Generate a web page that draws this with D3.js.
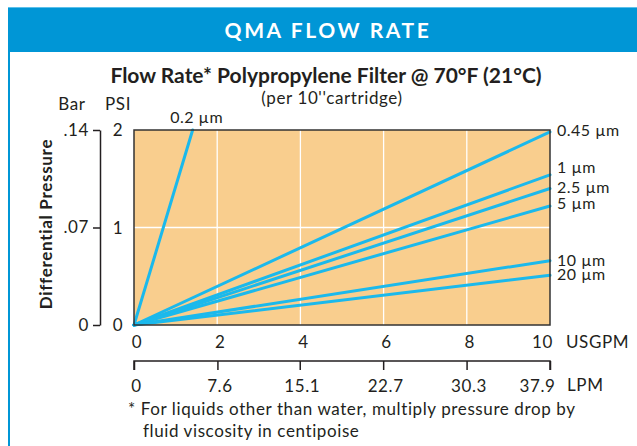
<!DOCTYPE html>
<html>
<head>
<meta charset="utf-8">
<script src="https://cdn.jsdelivr.net/npm/d3@7"></script>
<style>
  html, body { margin: 0; padding: 0; background: #fff; }
  svg { display: block; font-family: Lato, "Noto Sans", sans-serif; }
  .t { fill: #231f20; font-size: 17px; letter-spacing: 0.6px; }
  .lbl { fill: #231f20; font-size: 16px; letter-spacing: 0.5px; }
</style>
</head>
<body>
<div id="chart"></div>
<script>
// series: pressure drop lines, each from origin to an end point (USGPM, PSI)
const seriesNames = ["0.2 µm", "0.45 µm", "1 µm", "2.5 µm", "5 µm", "10 µm", "20 µm"];
const seriesEndGpm = [1.41, 10, 10, 10, 10, 10, 10];
const seriesEndPsi = [2, 1.98, 1.54, 1.40, 1.22, 0.66, 0.51];

const gpmTicks = [0, 2, 4, 6, 8, 10];
const lpmTicks = [0, 7.6, 15.1, 22.7, 30.3, 37.9];
const psiTicks = [0, 1, 2];
const barTicks = [0, 0.07, 0.14];

const W = 637, H = 446;
const plot = { left: 134, right: 550, top: 130, bottom: 325 };

const svg = d3.select("#chart").append("svg").attr("width", W).attr("height", H);

// header band + frame
svg.append("rect").attr("x", 8).attr("y", 8).attr("width", W - 8).attr("height", 44).attr("fill", "#0096d6");
svg.append("line").attr("x1", 8).attr("x2", W).attr("y1", 7.5).attr("y2", 7.5).attr("stroke", "#5cc0ea").attr("stroke-width", 1);
svg.append("line").attr("x1", 9).attr("x2", 9).attr("y1", 8).attr("y2", H).attr("stroke", "#0096d6").attr("stroke-width", 2);
svg.append("text").attr("x", 328).attr("y", 38).attr("text-anchor", "middle")
  .attr("fill", "#fff").attr("font-size", 21).attr("font-weight", "bold").attr("letter-spacing", 2.6)
  .text("QMA FLOW RATE");

// titles
svg.append("text").attr("x", 326).attr("y", 83).attr("text-anchor", "middle")
  .attr("fill", "#231f20").attr("font-size", 21).attr("font-weight", "bold")
  .text("Flow Rate* Polypropylene Filter @ 70°F (21°C)");
svg.append("text").attr("class", "t").attr("x", 332).attr("y", 104).attr("text-anchor", "middle")
  .text("(per 10''cartridge)");

const x = d3.scaleLinear().domain([0, 10]).range([plot.left, plot.right]);
const xl = d3.scaleLinear().domain([0, 37.9]).range([plot.left, plot.right]);
const y = d3.scaleLinear().domain([0, 2]).range([plot.bottom, plot.top]);
const yb = d3.scaleLinear().domain([0, 0.14]).range([plot.bottom, plot.top]);

// plot background
svg.append("rect").attr("x", plot.left).attr("y", plot.top)
  .attr("width", plot.right - plot.left).attr("height", plot.bottom - plot.top)
  .attr("fill", "#f9ce8e");

// grid
svg.append("g").selectAll("line").data(gpmTicks.slice(1, -1)).join("line")
  .attr("x1", d => x(d)).attr("x2", d => x(d)).attr("y1", plot.top).attr("y2", plot.bottom)
  .attr("stroke", "#fff").attr("stroke-width", 1.3);
svg.append("g").selectAll("line").data(psiTicks.slice(1, -1)).join("line")
  .attr("x1", plot.left).attr("x2", plot.right).attr("y1", d => y(d)).attr("y2", d => y(d))
  .attr("stroke", "#fff").attr("stroke-width", 1.3);

// series lines
const lineGen = d3.line().x(d => x(d[0])).y(d => y(d[1]));
const seriesData = seriesNames.map((n, i) => ({ name: n, pts: [[0, 0], [seriesEndGpm[i], seriesEndPsi[i]]] }));
svg.append("g").selectAll("path").data(seriesData).join("path")
  .attr("d", d => lineGen(d.pts)).attr("fill", "none")
  .attr("stroke", "#1bb9ec").attr("stroke-width", 3).attr("stroke-linecap", "round");

// plot border
svg.append("rect").attr("x", plot.left).attr("y", plot.top)
  .attr("width", plot.right - plot.left).attr("height", plot.bottom - plot.top)
  .attr("fill", "none").attr("stroke", "#333").attr("stroke-width", 1.5);

// series labels (baseline offset from each line's end)
const labelDy = [0, 4, -2, 4, 3, 5, 5];
svg.append("g").selectAll("text").data(seriesData).join("text")
  .attr("class", "lbl")
  .attr("x", (d, i) => i === 0 ? x(d.pts[1][0]) + 4 : plot.right + 7)
  .attr("y", (d, i) => i === 0 ? plot.top - 7 : y(d.pts[1][1]) + labelDy[i])
  .attr("text-anchor", (d, i) => i === 0 ? "middle" : "start")
  .text(d => d.name);

// left axes: PSI labels and bracketed Bar axis
svg.append("g").selectAll("text").data(psiTicks).join("text")
  .attr("class", "t").attr("x", 118).attr("y", d => y(d) + 6).attr("text-anchor", "middle")
  .text(d => d);
const barAxis = d3.axisLeft(yb).tickValues(barTicks).tickSize(7).tickSizeOuter(0)
  .tickFormat(d => d === 0 ? "0" : d3.format(".2f")(d).replace(/^0/, ""));
const gb = svg.append("g").attr("transform", "translate(100,0)").call(barAxis);
gb.select(".domain").attr("stroke", "#231f20").attr("stroke-width", 1.5);
gb.selectAll(".tick line").attr("stroke", "#231f20").attr("stroke-width", 1.5);
gb.selectAll(".tick text").attr("class", "t").attr("font-family", "Lato, sans-serif").attr("x", -11);
svg.append("text").attr("class", "t").attr("x", 72).attr("y", 110).attr("text-anchor", "middle").text("Bar");
svg.append("text").attr("class", "t").attr("x", 118).attr("y", 110).attr("text-anchor", "middle").text("PSI");
svg.append("text").attr("transform", "translate(52,224) rotate(-90)").attr("text-anchor", "middle")
  .attr("fill", "#231f20").attr("font-size", 17).attr("font-weight", "bold").attr("letter-spacing", 0.7)
  .text("Differential Pressure");

// bottom: USGPM labels
const lastGpm = gpmTicks[gpmTicks.length - 1];
svg.append("g").selectAll("text").data(gpmTicks).join("text")
  .attr("class", "t")
  .attr("x", d => x(d) + 3).attr("y", 348)
  .attr("text-anchor", d => d === lastGpm ? "end" : "middle")
  .text(d => d);
svg.append("text").attr("class", "t").attr("x", 566).attr("y", 348).text("USGPM");

// LPM axis
const lastLpm = lpmTicks[lpmTicks.length - 1];
const lpmAxis = d3.axisBottom(xl).tickValues(lpmTicks).tickSize(9).tickSizeOuter(0).tickFormat(d => d);
const gl = svg.append("g").attr("transform", "translate(0,361)").call(lpmAxis);
gl.select(".domain").attr("stroke", "#231f20").attr("stroke-width", 1.5)
  .attr("d", `M${plot.left},9V0H${plot.right}V9`);
gl.selectAll(".tick line").attr("stroke", "#231f20").attr("stroke-width", 1.5);
gl.selectAll(".tick text").attr("class", "t").attr("font-family", "Lato, sans-serif")
  .attr("y", 19).attr("dy", "0.71em")
  .attr("x", d => d === lastLpm ? 5 : 2)
  .attr("text-anchor", d => d === lastLpm ? "end" : "middle");
svg.append("text").attr("class", "t").attr("x", 567).attr("y", 391).text("LPM");

// footnote
svg.append("text").attr("class", "t").attr("x", 128).attr("y", 415)
  .text("* For liquids other than water, multiply pressure drop by");
svg.append("text").attr("class", "t").attr("x", 143).attr("y", 437)
  .text("fluid viscosity in centipoise");
</script>
</body>
</html>
